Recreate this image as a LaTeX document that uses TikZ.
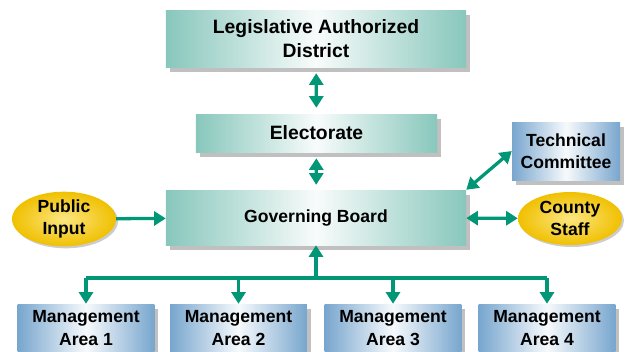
\documentclass[tikz,border=0pt]{standalone}
\usepackage{fontspec}
\setmainfont{Liberation Sans}
\usetikzlibrary{arrows.meta,positioning,shapes.geometric,shadows}

\definecolor{tealedge}{RGB}{136,199,188}
\definecolor{blueedge}{RGB}{120,166,206}
\definecolor{goldedge}{RGB}{240,192,0}
\definecolor{goldmid}{RGB}{252,230,130}
\definecolor{arrowgreen}{RGB}{0,150,118}
\definecolor{shadowgray}{RGB}{192,192,192}

\begin{document}
\begin{tikzpicture}[
  x=0.03cm, y=-0.03cm,
  every node/.style={font=\bfseries\fontsize{15}{19}\selectfont},
  big/.style={font=\bfseries\fontsize{16.5}{20.5}\selectfont},
  shadowed/.style={drop shadow={shadow xshift=0.12cm, shadow yshift=-0.14cm, fill=shadowgray, opacity=1}},
  tealbox/.style={shadowed, left color=tealedge, right color=tealedge, middle color=white!94!tealedge, align=center, inner sep=0pt},
  bluebox/.style={shadowed, left color=blueedge, right color=blueedge, middle color=white!94!blueedge, align=center, inner sep=0pt},
  oval/.style={ellipse, drop shadow={shadow xshift=0.06cm, shadow yshift=-0.06cm, fill=shadowgray, opacity=0.8}, shading=radial, inner color=goldmid, outer color=goldedge, minimum width=3.12cm, minimum height=1.5cm, align=center, inner sep=0pt},
  conn/.style={draw=arrowgreen, line width=2.8pt, -{Triangle[width=12pt,length=10pt]}},
  dconn/.style={draw=arrowgreen, line width=2.8pt, {Triangle[width=12pt,length=10pt]}-{Triangle[width=12pt,length=10pt]}},
  bus/.style={draw=arrowgreen, line width=2.8pt}
]
\useasboundingbox (0,0) rectangle (626,351);

\node[tealbox, big, minimum width=9cm, minimum height=1.71cm] (leg) at (316,38.5) {Legislative Authorized\\District};
\node[tealbox, big, minimum width=7.23cm, minimum height=1.14cm] (elect) at (316.5,133) {Electorate};
\node[tealbox, minimum width=9cm, minimum height=1.65cm] (gov) at (316,217.5) {Governing Board};

\node[oval] (pub) at (64,219) {Public\\Input};
\node[oval, minimum height=1.59cm] (county) at (570,218.5) {County\\Staff};
\node[bluebox, minimum width=3.24cm, minimum height=1.74cm] (tech) at (566,151) {Technical\\Committee};

% management areas
\node[bluebox, minimum width=4.1cm, minimum height=1.44cm] (m1) at (86,328) {Management\\Area 1};
\node[bluebox, minimum width=4.1cm, minimum height=1.44cm] (m2) at (238.5,328) {Management\\Area 2};
\node[bluebox, minimum width=4.1cm, minimum height=1.44cm] (m3) at (393,328) {Management\\Area 3};
\node[bluebox, minimum width=4.1cm, minimum height=1.44cm] (m4) at (547,328) {Management\\Area 4};

\coordinate (split) at (316,278);

\draw[dconn, shorten <=0.18cm, shorten >=0.18cm] (leg) -- (elect);
\draw[dconn, shorten <=0.18cm, shorten >=0.15cm] (elect) -- (gov);
\draw[conn] (pub) -- (gov);
\draw[dconn] (gov) -- (county);
\draw[dconn] (gov.north east) -- (tech.west);

\draw[conn] (split) -- (gov.south);
\draw[bus] (m1 |- split) -- (m4 |- split);
\foreach \m in {m1,m2,m3,m4}
  \draw[conn] (\m |- split) -- (\m.north);
\end{tikzpicture}
\end{document}
